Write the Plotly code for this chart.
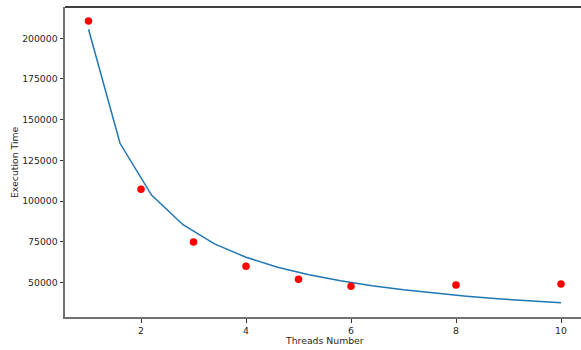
import plotly.graph_objects as go

# Measured points (red dots)
threads = [1, 2, 3, 4, 5, 6, 8, 10]
exec_time = [210600, 107200, 74800, 59900, 52000, 47700, 48500, 49100]

# Fitted curve (blue line)
fit_x = [1, 1.6, 2.2, 2.8, 3.4, 4, 4.6, 5.2, 5.8, 6.4, 7, 7.6, 8.2, 8.8, 9.4, 10]
fit_y = [205500, 135500, 103700, 85500, 73700, 65500, 59400, 54700, 51000,
         48000, 45500, 43400, 41600, 40000, 38700, 37500]

x_ticks = [2, 4, 6, 8, 10]
y_ticks = [50000, 75000, 100000, 125000, 150000, 175000, 200000]

FS = 9.3
font = dict(family="DejaVu Sans", size=FS, color="#262626")

fig = go.Figure()
fig.add_trace(go.Scatter(x=fit_x, y=fit_y, mode="lines",
                         line=dict(color="#1f77b4", width=1.5), showlegend=False))
fig.add_trace(go.Scatter(x=threads, y=exec_time, mode="markers",
                         marker=dict(color="#ff0000", size=7.5), showlegend=False))

fig.update_layout(
    width=581, height=350,
    margin=dict(l=65, r=0, t=6.5, b=33),
    paper_bgcolor="white", plot_bgcolor="white",
    font=font,
    xaxis=dict(range=[0.552, 10.381], tickvals=x_ticks, ticktext=[str(v) for v in x_ticks],
               showgrid=False, zeroline=False, showline=True, linecolor="#707070", linewidth=2,
               ticks="outside", ticklen=3.5, tickwidth=1, tickcolor="#333", automargin=False),
    yaxis=dict(range=[28800, 219200], tickvals=y_ticks, ticktext=[str(v) for v in y_ticks],
               showgrid=False, zeroline=False, showline=True, linecolor="#707070", linewidth=2,
               ticks="outside", ticklen=3.5, tickwidth=1, tickcolor="#333", automargin=False),
    shapes=[dict(type="line", xref="paper", yref="paper", x0=0, x1=1, y0=1, y1=1,
                 line=dict(color="black", width=1.5))],
    annotations=[
        dict(text="Threads Number", xref="x", x=5.5, yref="paper", y=0,
             xanchor="center", yanchor="middle", yshift=-23, showarrow=False,
             font=dict(size=FS)),
        dict(text="Execution Time", xref="paper", x=0, yref="paper", y=0.5,
             xanchor="center", yanchor="middle", xshift=-51, textangle=-90,
             showarrow=False, font=dict(size=FS)),
    ],
)

fig.write_html("out.html", config={"displayModeBar": False},
               post_script="document.body.style.margin='0';document.body.style.overflow='hidden';")
